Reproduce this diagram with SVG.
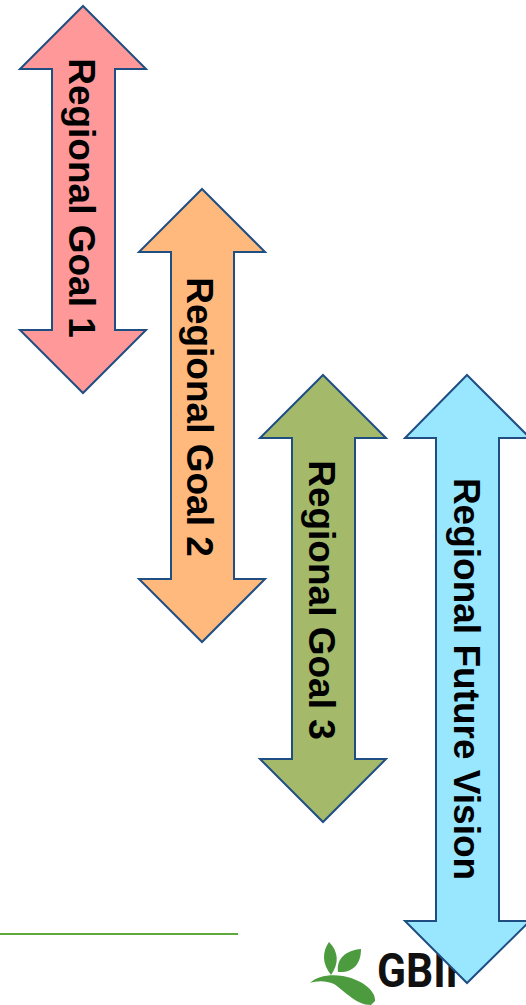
<svg xmlns="http://www.w3.org/2000/svg" width="526" height="1005" viewBox="0 0 526 1005">
<style>
.arrow{stroke:#1f4e83;stroke-width:2;stroke-linejoin:miter}
.label{font-family:"Liberation Sans",Arial,sans-serif;font-weight:700;font-size:37px;fill:#000;text-anchor:middle}
.logo{font-family:"Roboto","Liberation Sans",sans-serif;font-weight:700;font-size:48px;fill:#111}
.leaf{fill:#4c9c3f}
</style>
<rect width="526" height="1005" fill="#fff"/>
<line x1="0" y1="934" x2="238" y2="934" stroke="#5fa83a" stroke-width="2"/>
<g id="logo">
<path class="leaf" d="M329 942C322 952 322 964 331 975C339 964 339 952 329 942Z"/>
<path class="leaf" d="M361 949C346 950 336 959 338 972C353 973 361 964 361 949Z"/>
<path class="leaf" d="M310 983C317 976 330 974 343 976C360 979 376 990 375 1001L371 1005C356 1005 346 992 334 984C325 980 316 981 310 983Z"/>
<text class="logo" x="377" y="987" textLength="92" lengthAdjust="spacingAndGlyphs">GBIF</text>
</g>
<g id="goal1">
<path class="arrow" fill="#ff9999" d="M83 6L146 69H115V330H146L83 393L20 330H52V69H20Z"/>
<text class="label" transform="translate(69 198) rotate(90)">Regional Goal 1</text>
</g>
<g id="goal2">
<path class="arrow" fill="#ffb97d" d="M202 189L265 252H234V579H265L202 642L139 579H171V252H139Z"/>
<text class="label" transform="translate(187 417) rotate(90)">Regional Goal 2</text>
</g>
<g id="goal3">
<path class="arrow" fill="#a4b96a" d="M323 375L386 438H355V759H386L323 822L260 759H292V438H260Z"/>
<text class="label" transform="translate(309 600) rotate(90)">Regional Goal 3</text>
</g>
<g id="vision">
<path class="arrow" fill="#99e6ff" d="M467 375L530 438H499V921H530L467 983L405 921H436V438H405Z"/>
<text class="label" transform="translate(454 679) rotate(90)">Regional Future Vision</text>
</g>
<g id="connectors"/>
</svg>
